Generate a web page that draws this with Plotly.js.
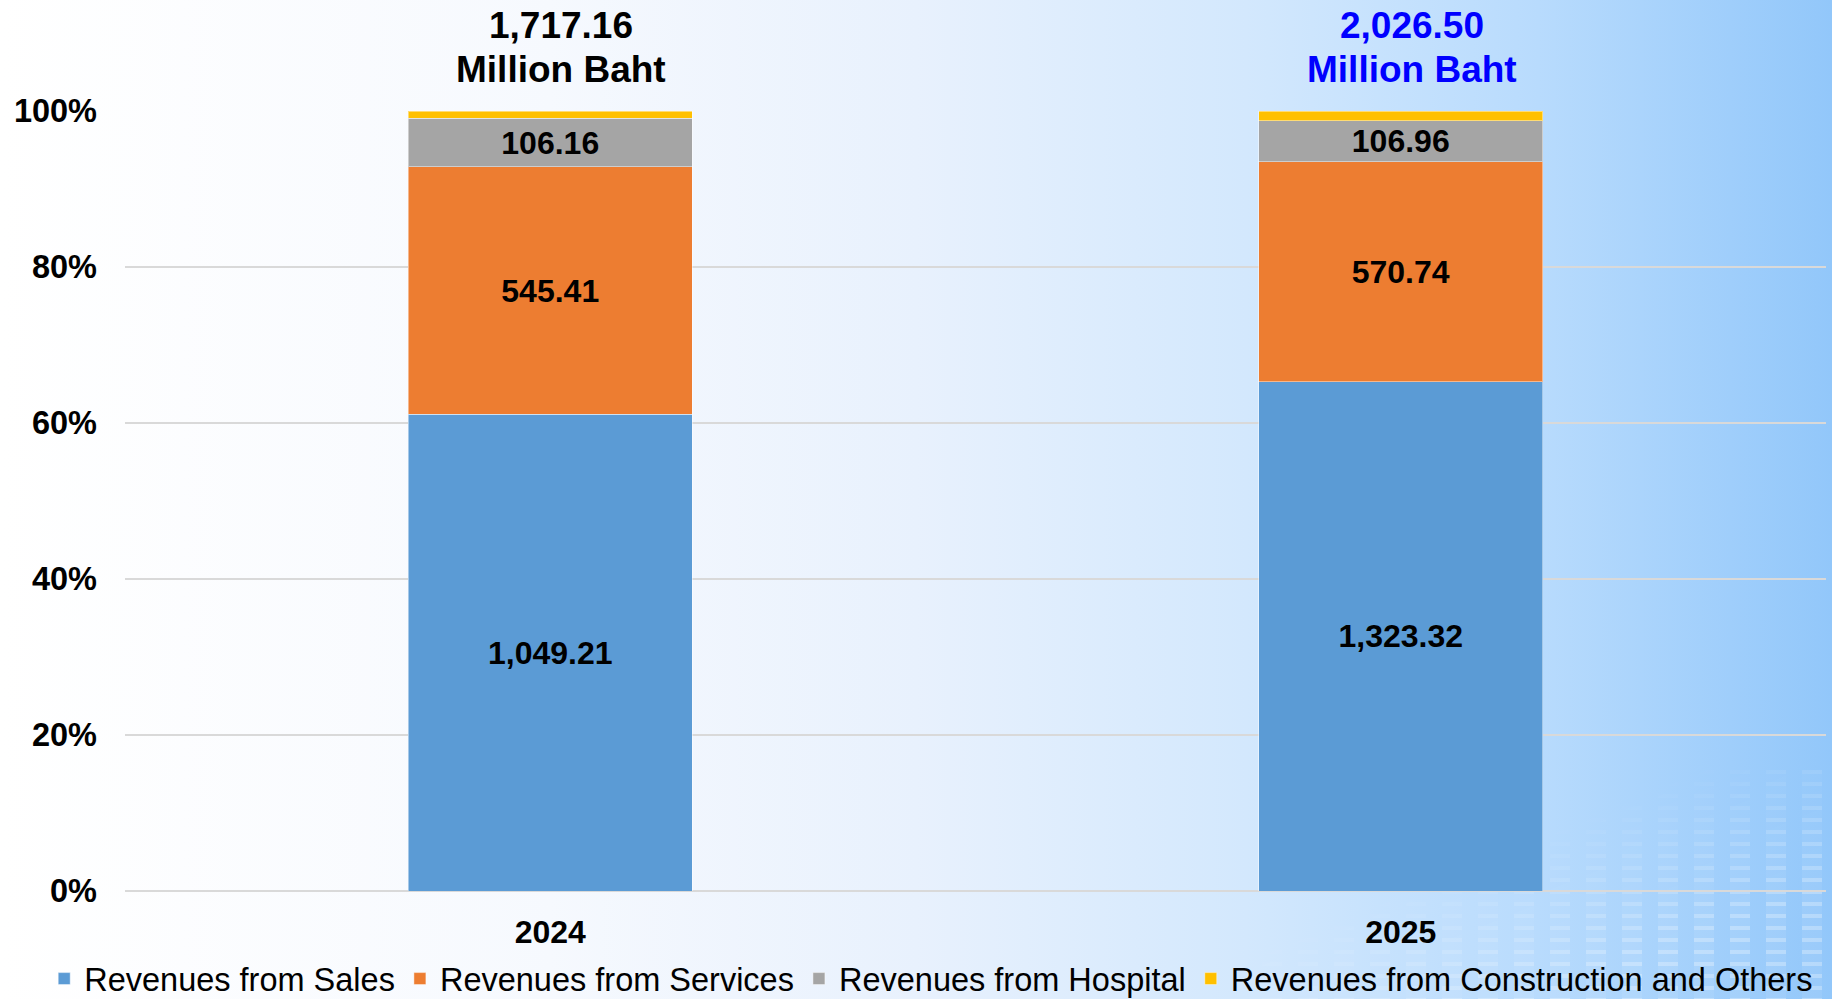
<!DOCTYPE html>
<html>
<head>
<meta charset="utf-8">
<script src="https://cdn.plot.ly/plotly-3.0.1.min.js"></script>
<style>
  html, body { margin:0; padding:0; width:1832px; height:999px; overflow:hidden; }
  body { position:relative; background: linear-gradient(to right, #ffffff 0%, #f6f9fe 30%, #e8f1fd 50%, #d3e8fd 68%, #b8dbfd 84%, #92c7fa 100%); }
  #deco {
    position:absolute; left:1262px; top:770px; width:570px; height:229px; z-index:0;
    background: repeating-linear-gradient(to bottom, rgba(255,255,255,0.32) 0px, rgba(255,255,255,0.32) 4px, rgba(255,255,255,0.07) 4px, rgba(255,255,255,0.07) 12px);
    -webkit-mask-image: repeating-linear-gradient(to right, #000 0px, #000 20px, transparent 20px, transparent 36px), linear-gradient(to top left, #000 25%, transparent 62%);
    -webkit-mask-composite: source-in;
    mask-image: repeating-linear-gradient(to right, #000 0px, #000 20px, transparent 20px, transparent 36px), linear-gradient(to top left, #000 25%, transparent 62%);
    mask-composite: intersect;
  }
  #chart { position:absolute; left:0; top:0; width:1832px; height:999px; z-index:1; }
</style>
</head>
<body>
<div id="deco"></div>
<div id="chart"></div>
<script>
const years = ['2024', '2025'];
const totals = [1717.16, 2026.50];
const totalColors = ['#000000', '#0000FF'];
const totalUnit = 'Million Baht';
const seriesNames = ['Revenues from Sales', 'Revenues from Services', 'Revenues from Hospital', 'Revenues from Construction and Others'];
const sales = [1049.21, 1323.32];
const services = [545.41, 570.74];
const hospital = [106.16, 106.96];
const others = [16.38, 25.48];
const seriesColors = ['#5B9BD5', '#ED7D31', '#A5A5A5', '#FFC000'];
const showLabels = [true, true, true, false];
const yTickVals = [0, 20, 40, 60, 80, 100];

const FONT = 'Liberation Sans, Arial, sans-serif';
const fmt = v => v.toLocaleString('en-US', {minimumFractionDigits: 2, maximumFractionDigits: 2});

const seriesValues = [sales, services, hospital, others];
const traces = seriesValues.map((vals, i) => ({
  type: 'bar',
  name: seriesNames[i],
  x: years,
  y: vals,
  text: vals.map(fmt),
  texttemplate: showLabels[i] ? '%{text}' : '',
  textposition: showLabels[i] ? 'inside' : 'none',
  insidetextanchor: 'middle',
  textangle: 0,
  constraintext: 'none',
  insidetextfont: {family: FONT, size: 32, color: '#000000', weight: 'bold'},
  marker: {color: seriesColors[i], line: {color: 'rgba(255,255,255,0.45)', width: 1}},
  hoverinfo: 'skip'
}));

// total labels above each bar: value line and unit line (x = category index)
const annotations = [];
years.forEach((yr, i) => {
  annotations.push({
    xref: 'x', yref: 'paper', x: i, y: 1,
    xanchor: 'center', yanchor: 'middle', xshift: 11, yshift: 86,
    showarrow: false, text: fmt(totals[i]),
    font: {family: FONT, size: 37, color: totalColors[i], weight: 'bold'}
  });
  annotations.push({
    xref: 'x', yref: 'paper', x: i, y: 1,
    xanchor: 'center', yanchor: 'middle', xshift: 11, yshift: 42,
    showarrow: false, text: totalUnit,
    font: {family: FONT, size: 37, color: totalColors[i], weight: 'bold'}
  });
});

const layout = {
  width: 1832, height: 999,
  paper_bgcolor: 'rgba(0,0,0,0)',
  plot_bgcolor: 'rgba(0,0,0,0)',
  margin: {l: 125, r: 6, t: 111, b: 108, autoexpand: false},
  barmode: 'stack',
  barnorm: 'percent',
  bargap: 0.666,
  showlegend: true,
  font: {family: FONT, color: '#000000'},
  xaxis: {
    type: 'category',
    range: [-0.5, 1.5],
    autorange: false,
    showgrid: false, zeroline: false, showline: false,
    ticks: '',
    tickfont: {family: FONT, size: 32, color: '#000000', weight: 'bold'},
    ticklabelstandoff: 19
  },
  yaxis: {
    range: [0, 100],
    autorange: false,
    tickvals: yTickVals,
    ticktext: yTickVals.map(v => v + '%'),
    showgrid: true, gridcolor: '#d9d9d9', gridwidth: 2,
    zeroline: true, zerolinecolor: '#d9d9d9', zerolinewidth: 2,
    showline: false, ticks: '',
    tickfont: {family: FONT, size: 32.5, color: '#000000', weight: 'bold'},
    ticklabelstandoff: 27
  },
  legend: {
    orientation: 'h',
    xref: 'paper', yref: 'paper',
    x: -0.0475, xanchor: 'left',
    y: -0.1128, yanchor: 'middle',
    traceorder: 'normal',
    font: {family: FONT, size: 32.5, color: '#000000'},
    bgcolor: 'rgba(0,0,0,0)',
    itemclick: false, itemdoubleclick: false
  },
  annotations: annotations
};

Plotly.newPlot('chart', traces, layout, {staticPlot: true, displayModeBar: false});
</script>
</body>
</html>
